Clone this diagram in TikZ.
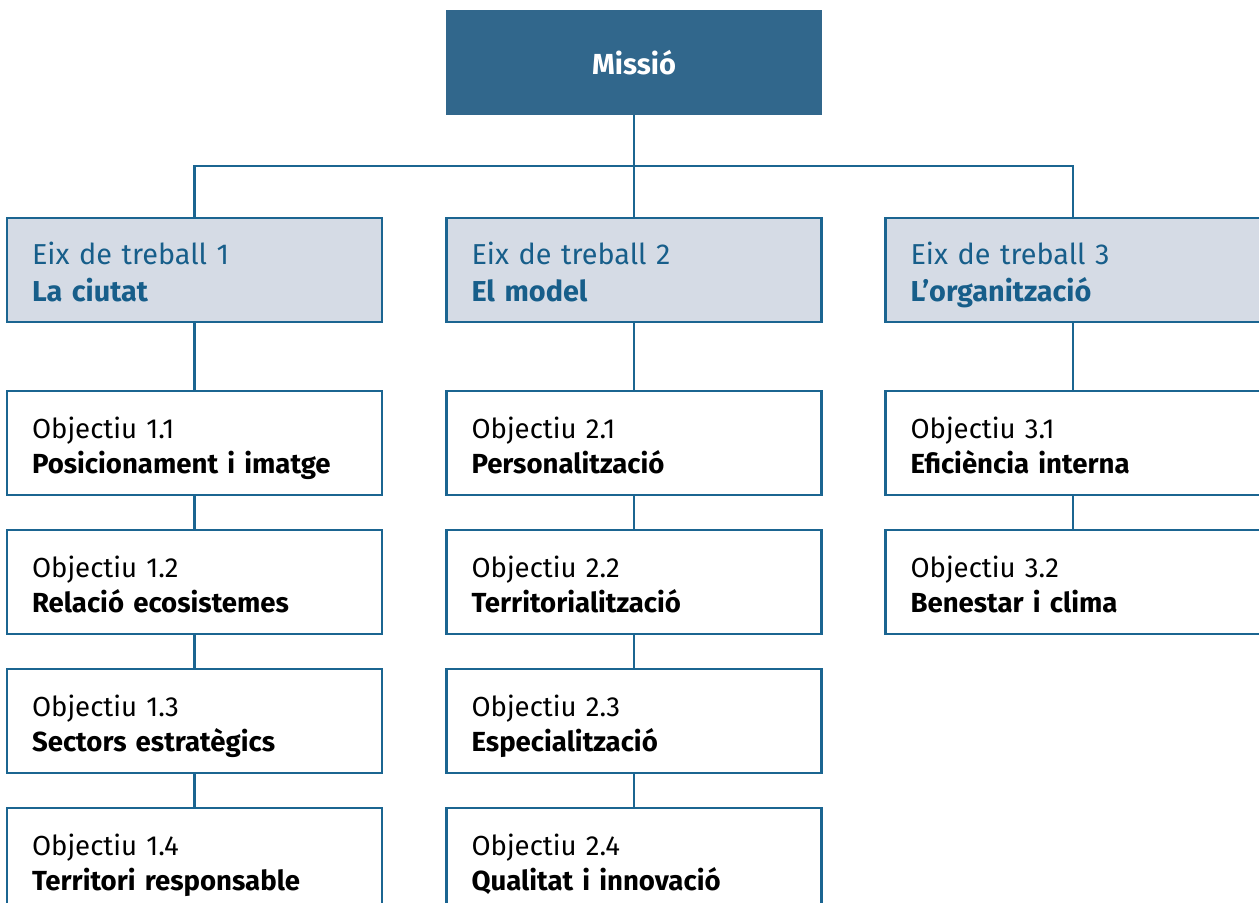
\documentclass[tikz,border=0pt]{standalone}
\usepackage{fontspec}
\setmainfont{Fira Sans}
\usepackage{tikz}
\usetikzlibrary{positioning}

\definecolor{missioblue}{RGB}{49,103,140}
\definecolor{lineblue}{RGB}{27,101,145}
\definecolor{eixfill}{RGB}{213,219,229}
\definecolor{eixtext}{RGB}{23,94,138}

\newcommand{\topstrut}{\rule{0pt}{\dimexpr\ht\strutbox+0.24cm\relax}}

\tikzset{
  link/.style={draw=lineblue, line width=1.6pt},
  missiobox/.style={fill=missioblue, text=white, font=\fontsize{16.5}{20}\selectfont\bfseries,
    minimum width=7.52cm, minimum height=2.1cm},
  eixbox/.style={draw=lineblue, fill=eixfill, line width=1.6pt, text=eixtext,
    minimum width=7.5cm, minimum height=2.08cm, text width=6.5cm, inner xsep=0.5cm,
    align=left, font=\fontsize{16.4}{21}\selectfont,
    execute at begin node=\topstrut, execute at end node=\strut},
  objbox/.style={draw=lineblue, fill=white, line width=1.6pt, text=black,
    minimum width=7.5cm, minimum height=2.08cm, text width=6.5cm, inner xsep=0.5cm,
    align=left, font=\fontsize{15.7}{20}\selectfont,
    execute at begin node=\topstrut, execute at end node=\strut}
}

\begin{document}
\begin{tikzpicture}[x=0.02cm, y=-0.02cm]
			% Fix the frame of the picture
			\useasboundingbox (0,0) rectangle (1259,903);
			\clip (0,0) rectangle (1259,903);
			
			% Top box
			\node[missiobox] (missio) at (634,62.5) {Missió};
			
			% Working axes
			\node[eixbox] (eix1) at (194.5,270) {Eix de treball 1\\\textbf{La ciutat}};
			\node[eixbox] (eix2) at (634,270) {Eix de treball 2\\\textbf{El model}};
			\node[eixbox] (eix3) at (1073,270) {Eix de treball 3\\\textbf{L’organització}};
			
			% Objectives of axis 1
			\node[objbox] (obj11) at (194.5,443) {Objectiu 1.1\\\textbf{Posicionament i imatge}};
			\node[objbox] (obj12) at (194.5,582) {Objectiu 1.2\\\textbf{Relació ecosistemes}};
			\node[objbox] (obj13) at (194.5,721) {Objectiu 1.3\\\textbf{Sectors estratègics}};
			\node[objbox] (obj14) at (194.5,860) {Objectiu 1.4\\\textbf{Territori responsable}};
			
			% Objectives of axis 2
			\node[objbox] (obj21) at (634,443) {Objectiu 2.1\\\textbf{Personalització}};
			\node[objbox] (obj22) at (634,582) {Objectiu 2.2\\\textbf{Territorialització}};
			\node[objbox] (obj23) at (634,721) {Objectiu 2.3\\\textbf{Especialització}};
			\node[objbox] (obj24) at (634,860) {Objectiu 2.4\\\textbf{Qualitat i innovació}};
			
			% Objectives of axis 3
			\node[objbox] (obj31) at (1073,443) {Objectiu 3.1\\\textbf{Eficiència interna}};
			\node[objbox] (obj32) at (1073,582) {Objectiu 3.2\\\textbf{Benestar i clima}};
			
			% Branching lines
			\coordinate (bus) at (634,166);
			\draw[link] (missio.south) -- (bus);
			\draw[link] (eix1.north) |- (bus) -| (eix3.north);
			\draw[link] (bus) -- (eix2.north);
			
			% Lines between the boxes of each column
			\draw[link] (eix1) -- (obj11);
			\draw[link] (obj11) -- (obj12);
			\draw[link] (obj12) -- (obj13);
			\draw[link] (obj13) -- (obj14);
			\draw[link] (eix2) -- (obj21);
			\draw[link] (obj21) -- (obj22);
			\draw[link] (obj22) -- (obj23);
			\draw[link] (obj23) -- (obj24);
			\draw[link] (eix3) -- (obj31);
			\draw[link] (obj31) -- (obj32);
		\end{tikzpicture}
\end{document}
